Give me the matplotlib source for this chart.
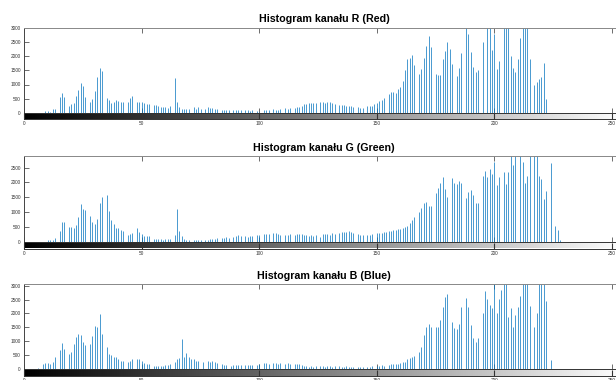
import numpy as np
import matplotlib
matplotlib.use("Agg")
import matplotlib.pyplot as plt

plt.rcParams['font.family'] = ['Liberation Sans', 'DejaVu Sans']

# histogram counts per intensity level 0..255
red_counts = [
    0, 0, 0, 0, 0, 0, 0, 0, 0, 70,
    70, 50, 130, 150, 0, 575, 690, 575, 0, 250,
    300, 360, 600, 810, 1070, 950, 575, 0, 400, 505,
    765, 1280, 1590, 1460, 0, 520, 460, 365, 390, 460,
    410, 390, 400, 0, 400, 520, 600, 0, 400, 390,
    390, 365, 320, 300, 0, 270, 270, 250, 225, 225,
    225, 190, 250, 0, 1235, 400, 225, 150, 140, 130,
    130, 0, 200, 150, 200, 140, 0, 150, 225, 160,
    190, 150, 150, 0, 120, 105, 110, 100, 0, 100,
    90, 100, 95, 0, 100, 90, 80, 100, 0, 70,
    50, 0, 105, 100, 110, 0, 130, 105, 120, 150,
    0, 160, 130, 170, 0, 160, 200, 220, 260, 300,
    330, 340, 340, 350, 350, 0, 400, 400, 360, 385,
    400, 360, 330, 0, 280, 280, 280, 245, 235, 235,
    210, 0, 210, 190, 190, 0, 235, 235, 260, 300,
    350, 420, 440, 540, 0, 680, 725, 737, 700, 830,
    910, 1120, 1520, 1900, 1940, 2020, 1685, 0, 1380, 1545,
    1920, 2350, 2690, 2320, 0, 1380, 1320, 1330, 1880, 2165,
    2500, 2250, 1710, 0, 1300, 1570, 2100, 0, 3300, 2760,
    2150, 1615, 1440, 1500, 0, 2480, 0, 3400, 3200, 2200,
    2760, 1530, 1825, 0, 3500, 3300, 3100, 2010, 1590, 1450,
    1880, 2620, 3200, 3600, 3300, 1900, 0, 980, 1080, 1190,
    1260, 1770, 490, 0, 0, 0, 0, 0, 0, 0,
    0, 0, 0, 0, 0, 0, 0, 0, 0, 0,
    0, 0, 0, 0, 0, 0, 0, 0, 0, 0,
    0, 0, 0, 0, 0, 0,
]

green_counts = [
    0, 0, 0, 0, 0, 0, 0, 0, 0, 0,
    55, 55, 60, 110, 0, 360, 665, 665, 0, 495,
    495, 460, 565, 820, 1270, 1115, 1070, 0, 880, 665,
    585, 765, 1305, 1500, 0, 1575, 1035, 720, 585, 475,
    450, 380, 350, 0, 235, 250, 305, 0, 460, 340,
    250, 190, 190, 190, 0, 100, 90, 80, 80, 70,
    80, 75, 80, 0, 215, 1090, 360, 190, 100, 70,
    60, 0, 65, 60, 70, 60, 0, 70, 60, 75,
    80, 90, 110, 0, 110, 120, 150, 140, 0, 160,
    190, 210, 180, 0, 190, 170, 200, 190, 0, 220,
    230, 0, 260, 250, 270, 0, 290, 280, 270, 240,
    0, 220, 240, 250, 0, 230, 260, 270, 250, 215,
    230, 200, 210, 190, 230, 0, 170, 260, 250, 270,
    240, 280, 250, 0, 300, 320, 340, 330, 360, 330,
    300, 0, 250, 230, 240, 0, 220, 240, 250, 0,
    280, 290, 305, 320, 340, 350, 370, 395, 405, 430,
    440, 460, 505, 540, 620, 730, 820, 0, 1000, 1135,
    1310, 1340, 1220, 1200, 0, 1650, 1815, 1970, 2170, 1770,
    1500, 0, 2160, 1990, 1940, 2040, 1975, 0, 1480, 1665,
    1745, 1590, 1290, 1295, 0, 2200, 2400, 2190, 2450, 2290,
    2690, 1900, 2190, 0, 2340, 1960, 2340, 3100, 2600, 3000,
    0, 3200, 2680, 1990, 2220, 3300, 0, 3100, 3200, 2200,
    2130, 1450, 1720, 0, 2670, 0, 540, 380, 70, 0,
    0, 0, 0, 0, 0, 0, 0, 0, 0, 0,
    0, 0, 0, 0, 0, 0, 0, 0, 0, 0,
    0, 0, 0, 0, 0, 0,
]

blue_counts = [
    0, 0, 0, 0, 0, 0, 50, 0, 180, 200,
    200, 165, 260, 450, 0, 700, 930, 715, 0, 525,
    620, 890, 1165, 1260, 1215, 975, 855, 0, 905, 1180,
    1545, 1510, 1965, 1250, 0, 800, 525, 510, 415, 415,
    345, 285, 275, 0, 260, 300, 370, 0, 355, 345,
    275, 215, 190, 165, 0, 120, 110, 105, 105, 105,
    140, 140, 190, 0, 260, 355, 405, 1070, 415, 560,
    415, 355, 355, 300, 285, 0, 260, 0, 285, 260,
    285, 240, 200, 0, 180, 140, 130, 0, 105, 140,
    150, 130, 140, 0, 150, 140, 160, 150, 0, 140,
    180, 0, 200, 220, 190, 0, 200, 210, 190, 200,
    0, 190, 200, 180, 0, 190, 170, 180, 150, 110,
    100, 90, 100, 90, 110, 0, 100, 110, 90, 120,
    100, 90, 110, 0, 100, 90, 80, 100, 90, 80,
    90, 0, 80, 70, 90, 0, 80, 90, 100, 0,
    110, 120, 130, 120, 0, 140, 165, 180, 180, 185,
    215, 240, 240, 355, 390, 415, 475, 0, 595, 810,
    1215, 1510, 1630, 1510, 0, 1510, 1510, 1750, 2240, 2595,
    2715, 0, 1690, 1465, 1450, 1630, 2240, 0, 2560, 2240,
    1570, 1130, 975, 1130, 0, 2000, 2800, 2520, 2300, 2200,
    3100, 2000, 2520, 2860, 3300, 3400, 1880, 2180, 1525, 1940,
    2240, 2620, 3500, 3300, 3400, 2285, 0, 1525, 2020, 3300,
    3500, 3200, 2440, 0, 320, 0, 0, 0, 0, 0,
    0, 0, 0, 0, 0, 0, 0, 0, 0, 0,
    0, 0, 0, 0, 0, 0, 0, 0, 0, 0,
    0, 0, 0, 0, 0, 0,
]

titles = ['Histogram kanału R (Red)', 'Histogram kanału G (Green)',
          'Histogram kanału B (Blue)']
y_limits = [3000, 2900, 3050]
x_ticks = [0, 50, 100, 150, 200, 250]

W, H = 616, 380
# pixel layout: (axes top, axes bottom, colourbar bottom)
rows = [(27.5, 113.0, 119.0), (155.7, 241.7, 248.5), (284.3, 369.0, 376.0)]
left_px = 24.3
width_px = 255 * 2.35

fig = plt.figure(figsize=(W / 100, H / 100), dpi=100)

def px_axes(top, bottom):
    return fig.add_axes([left_px / W, 1 - bottom / H, width_px / W, (bottom - top) / H])

levels = np.arange(256)
gradient = levels[np.newaxis, :]

for counts, title, ymax, (top, bot, cbot) in zip(
        [red_counts, green_counts, blue_counts], titles, y_limits, rows):
    counts = np.asarray(counts)
    ax = px_axes(top, bot)
    nz = counts > 0
    ax.vlines(levels[nz], 0, counts[nz], colors='#0072BD', linewidth=0.5)
    ax.set_xlim(0, 255)
    ax.set_ylim(0, ymax)
    ax.set_xticks(x_ticks)
    ax.set_xticklabels([])
    ax.set_yticks(np.arange(0, ymax + 1, 500))
    ax.tick_params(axis='both', direction='in', length=3.6, width=0.6,
                   color='#555555', labelsize=3.4, labelcolor='#333333',
                   top=True, right=True, pad=2.6)
    for side in ['left', 'right', 'top', 'bottom']:
        ax.spines[side].set_color('#444444')
        ax.spines[side].set_linewidth(0.7)
    ax.spines['top'].set_color('#888888')
    ax.set_title(title, fontsize=7.7, fontweight='bold', pad=3.6)

    cax = px_axes(bot, cbot)
    cax.imshow(gradient, cmap='gray', aspect='auto', extent=[0, 255, 0, 1],
               interpolation='bilinear')
    cax.set_xlim(0, 255)
    cax.set_yticks([])
    cax.set_xticks(x_ticks)
    cax.tick_params(axis='x', direction='in', length=4.5, width=0.8,
                    color='#333333', labelsize=3.4, labelcolor='#333333', pad=1.6)
    for side in ['left', 'right', 'top', 'bottom']:
        cax.spines[side].set_color('#333333')
        cax.spines[side].set_linewidth(0.7)

fig.savefig('out.png', dpi=100)
